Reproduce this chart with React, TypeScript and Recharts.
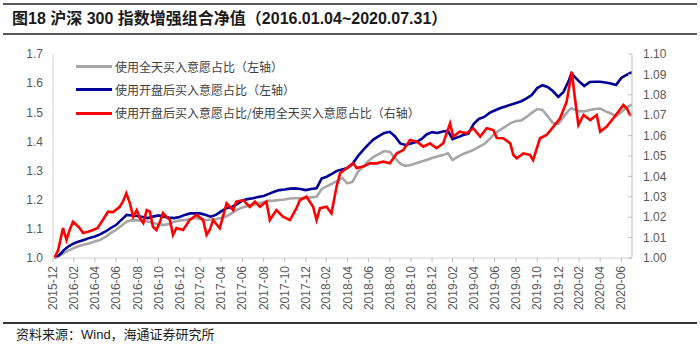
import React from 'react';
import { LineChart, Line, XAxis, YAxis } from 'recharts';

const dates: string[] = [
  '2016-01-04','2016-01-15','2016-01-25','2016-01-31','2016-02-15','2016-02-29','2016-03-15','2016-03-31','2016-04-15','2016-04-30',
  '2016-05-15','2016-05-31','2016-06-15','2016-06-30','2016-07-15','2016-07-31','2016-08-15','2016-08-31','2016-09-15','2016-09-30',
  '2016-10-15','2016-10-31','2016-11-15','2016-11-30','2016-12-15','2016-12-31','2017-01-15','2017-01-31','2017-02-15','2017-02-28',
  '2017-03-15','2017-03-31','2017-04-15','2017-04-30','2017-05-15','2017-05-31','2017-06-15','2017-06-30','2017-07-15','2017-07-31',
  '2017-08-15','2017-08-31','2017-09-15','2017-09-30','2017-10-15','2017-10-31','2017-11-15','2017-11-30','2017-12-15','2017-12-31',
  '2018-01-15','2018-01-31','2018-02-15','2018-02-28','2018-03-15','2018-03-31','2018-04-15','2018-04-30','2018-05-15','2018-05-31',
  '2018-06-15','2018-06-30','2018-07-15','2018-07-31','2018-08-15','2018-08-31','2018-09-15','2018-09-30','2018-10-15','2018-10-31',
  '2018-11-15','2018-11-30','2018-12-15','2018-12-31','2019-01-15','2019-01-31','2019-02-15','2019-02-28','2019-03-15','2019-03-31',
  '2019-04-15','2019-04-30','2019-05-15','2019-05-31','2019-06-15','2019-06-30','2019-07-15','2019-07-31','2019-08-15','2019-08-31',
  '2019-09-15','2019-09-30','2019-10-15','2019-10-31','2019-11-15','2019-11-30','2019-12-15','2019-12-31','2020-01-15','2020-01-31',
  '2020-02-07','2020-02-15','2020-02-29','2020-03-15','2020-03-31','2020-04-15','2020-04-30','2020-05-15','2020-05-31','2020-06-15',
  '2020-06-30','2020-07-15','2020-07-31',
];

// 使用全天买入意愿占比（左轴）
const fullDay: number[] = [
  1.000,1.007,1.012,1.017,1.026,1.034,1.041,1.046,1.051,1.057,
  1.062,1.072,1.086,1.096,1.110,1.125,1.129,1.130,1.127,1.125,
  1.120,1.117,1.113,1.117,1.124,1.129,1.130,1.134,1.137,1.134,
  1.130,1.132,1.134,1.137,1.142,1.154,1.165,1.173,1.178,1.182,
  1.187,1.192,1.196,1.197,1.199,1.201,1.204,1.205,1.206,1.206,
  1.208,1.210,1.237,1.245,1.254,1.264,1.275,1.256,1.261,1.297,
  1.314,1.333,1.347,1.357,1.367,1.364,1.343,1.324,1.316,1.319,
  1.325,1.331,1.336,1.343,1.348,1.353,1.359,1.336,1.347,1.357,
  1.364,1.371,1.381,1.391,1.408,1.426,1.439,1.451,1.463,1.470,
  1.472,1.484,1.498,1.511,1.508,1.487,1.463,1.460,1.484,1.508,
  1.513,1.510,1.504,1.503,1.508,1.511,1.513,1.504,1.496,1.486,
  1.501,1.516,1.527,
];

// 使用开盘后买入意愿占比（左轴）
const afterOpen: number[] = [
  1.000,1.007,1.018,1.027,1.041,1.050,1.057,1.063,1.069,1.074,
  1.081,1.091,1.103,1.113,1.130,1.148,1.146,1.144,1.141,1.137,
  1.142,1.146,1.142,1.139,1.137,1.141,1.148,1.153,1.153,1.153,
  1.148,1.142,1.148,1.160,1.171,1.175,1.185,1.197,1.202,1.205,
  1.209,1.213,1.220,1.227,1.233,1.235,1.238,1.239,1.237,1.233,
  1.237,1.239,1.273,1.278,1.288,1.299,1.304,1.309,1.323,1.350,
  1.371,1.390,1.407,1.419,1.429,1.433,1.417,1.393,1.388,1.393,
  1.398,1.408,1.424,1.432,1.429,1.434,1.436,1.408,1.414,1.422,
  1.427,1.460,1.477,1.484,1.498,1.506,1.514,1.520,1.526,1.532,
  1.538,1.548,1.559,1.583,1.593,1.587,1.573,1.553,1.570,1.611,
  1.634,1.623,1.606,1.590,1.604,1.605,1.605,1.602,1.599,1.594,
  1.618,1.628,1.638,
];

// 使用开盘后买入意愿占比/使用全天买入意愿占比（右轴）— denser sampling
const ratioDates: string[] = [
  '2016-01-04','2016-01-15','2016-01-29','2016-02-08','2016-02-17','2016-02-27','2016-03-08','2016-03-17','2016-03-27','2016-04-10',
  '2016-04-25','2016-05-08','2016-05-23','2016-06-07','2016-06-22','2016-07-11','2016-07-20','2016-07-30','2016-08-09','2016-08-19',
  '2016-08-29','2016-09-07','2016-09-17','2016-09-27','2016-10-06','2016-10-15','2016-10-25','2016-11-04','2016-11-13','2016-11-23',
  '2016-12-03','2016-12-12','2016-12-22','2017-01-10','2017-01-29','2017-02-18','2017-03-09','2017-03-19','2017-03-28','2017-04-07',
  '2017-04-26','2017-05-16','2017-06-04','2017-06-13','2017-07-03','2017-07-22','2017-08-06','2017-08-20','2017-09-08','2017-09-18',
  '2017-10-07','2017-10-26','2017-11-15','2017-12-04','2017-12-14','2018-01-02','2018-01-21','2018-01-31','2018-02-10','2018-03-01',
  '2018-03-15','2018-03-30','2018-04-09','2018-04-28','2018-05-17','2018-05-27','2018-06-15','2018-07-04','2018-07-23','2018-08-12',
  '2018-08-31','2018-09-20','2018-10-09','2018-10-28','2018-11-17','2018-12-06','2018-12-25','2019-01-13','2019-02-01','2019-02-21',
  '2019-03-02','2019-03-21','2019-04-10','2019-04-29','2019-05-19','2019-06-07','2019-06-26','2019-07-06','2019-07-25','2019-08-14',
  '2019-08-23','2019-09-02','2019-09-21','2019-10-10','2019-10-19','2019-11-08','2019-11-27','2019-12-17','2020-01-05','2020-01-24',
  '2020-02-08','2020-02-17','2020-02-27','2020-03-13','2020-04-01','2020-04-20','2020-04-30','2020-05-19','2020-06-07','2020-06-22',
  '2020-07-06','2020-07-16','2020-07-25','2020-07-31',
];
const ratio: number[] = [
  1.0000,1.0039,1.0147,1.0088,1.0137,1.0178,1.0162,1.0147,1.0123,1.0129,
  1.0137,1.0147,1.0186,1.0227,1.0225,1.0251,1.0276,1.0317,1.0270,1.0202,
  1.0235,1.0196,1.0172,1.0235,1.0227,1.0153,1.0137,1.0176,1.0221,1.0202,
  1.0186,1.0113,1.0147,1.0137,1.0186,1.0211,1.0186,1.0113,1.0137,1.0186,
  1.0146,1.0268,1.0235,1.0276,1.0284,1.0251,1.0276,1.0251,1.0276,1.0186,
  1.0235,1.0202,1.0186,1.0244,1.0284,1.0300,1.0251,1.0186,1.0244,1.0251,
  1.0219,1.0350,1.0415,1.0440,1.0464,1.0441,1.0448,1.0464,1.0464,1.0472,
  1.0464,1.0513,1.0529,1.0578,1.0570,1.0546,1.0562,1.0538,1.0562,1.0660,
  1.0595,1.0619,1.0611,1.0636,1.0595,1.0636,1.0627,1.0588,1.0587,1.0562,
  1.0505,1.0489,1.0513,1.0505,1.0480,1.0587,1.0603,1.0644,1.0685,1.0766,
  1.0912,1.0783,1.0652,1.0701,1.0676,1.0701,1.0619,1.0644,1.0685,1.0718,
  1.0750,1.0734,1.0701,1.0701,
];

const xTickLabels: string[] = [
  '2015-12','2016-02','2016-04','2016-06','2016-08','2016-10','2016-12',
  '2017-02','2017-04','2017-06','2017-08','2017-10','2017-12',
  '2018-02','2018-04','2018-06','2018-08','2018-10','2018-12',
  '2019-02','2019-04','2019-06','2019-08','2019-10','2019-12',
  '2020-02','2020-04','2020-06',
];
const leftTicks: number[] = [1.0, 1.1, 1.2, 1.3, 1.4, 1.5, 1.6, 1.7];
const rightTicks: number[] = [1.0, 1.01, 1.02, 1.03, 1.04, 1.05, 1.06, 1.07, 1.08, 1.09, 1.1];

const seriesNames = [
  '使用全天买入意愿占比（左轴）',
  '使用开盘后买入意愿占比（左轴）',
  '使用开盘后买入意愿占比/使用全天买入意愿占比（右轴）',
];
const colors = ['#A6A6A6', '#000099', '#FF0000'];

const toTs = (s: string) => {
  const [y, m, d] = s.split('-').map(Number);
  return Date.UTC(y, m - 1, d);
};
const monthEnd = (label: string) => {
  const [y, m] = label.split('-').map(Number);
  return Date.UTC(y, m, 0);
};

const data = dates.map((d, i) => ({
  ts: toTs(d),
  full: fullDay[i],
  open: afterOpen[i],
}));
const ratioData = ratioDates.map((d, i) => ({ ts: toTs(d), ratio: ratio[i] }));
const xTicks = xTickLabels.map(monthEnd);
const xDomain = [monthEnd('2015-12'), monthEnd('2020-07')];

const tickFont = '"Liberation Sans", Arial, sans-serif';
const labelColor = '#595959';

const fmtMonth = (v: number) => {
  const dt = new Date(v);
  const m = dt.getUTCMonth() + 1;
  return `${dt.getUTCFullYear()}-${m < 10 ? '0' + m : m}`;
};

const XTick = (props: any) => {
  const { x, y, payload } = props;
  return (
    <text
      x={x}
      y={y}
      transform={`rotate(-90 ${x} ${y})`}
      textAnchor="end"
      dy="0.35em"
      fill={labelColor}
      fontSize={12}
      fontFamily={tickFont}
    >
      {fmtMonth(payload.value)}
    </text>
  );
};

const RightTick = (props: any) => {
  const { x, y, payload } = props;
  const axisX = x - 11;
  return (
    <g>
      <line x1={axisX} x2={axisX - 4} y1={y} y2={y} stroke="#bfbfbf" strokeWidth={1} />
      <text x={x} y={y} dy="0.35em" textAnchor="start" fill={labelColor} fontSize={12} fontFamily={tickFont}>
        {Number(payload.value).toFixed(2)}
      </text>
    </g>
  );
};

export default function App() {
  return (
    <div
      style={{
        position: 'absolute',
        left: 0,
        top: 0,
        width: 700,
        height: 352,
        background: '#ffffff',
        overflow: 'hidden',
        fontFamily: '"Liberation Sans", "Noto Sans CJK SC", sans-serif',
      }}
    >
      <div style={{ position: 'absolute', left: 3, top: 3, width: 694, height: 2, background: '#595959' }} />
      <div
        style={{
          position: 'absolute',
          left: 12,
          top: 9,
          lineHeight: '20px',
          fontSize: 16,
          fontWeight: 'bold',
          color: '#1a1a1a',
          whiteSpace: 'nowrap',
          fontFamily: '"Liberation Sans", "Noto Sans CJK SC", sans-serif',
        }}
      >
        图18 沪深 300 指数增强组合净值（2016.01.04~2020.07.31）
      </div>
      <div style={{ position: 'absolute', left: 3, top: 33, width: 694, height: 1.5, background: '#595959' }} />

      <div style={{ position: 'absolute', left: 0, top: 0 }}>
        <LineChart width={700} height={352} data={data} margin={{ top: 54, right: 0, bottom: 30, left: 0 }}>
          <XAxis
            dataKey="ts"
            type="number"
            domain={xDomain}
            ticks={xTicks}
            interval={0}
            height={64}
            tick={<XTick />}
            tickSize={4}
            tickMargin={4}
            axisLine={{ stroke: '#d0d0d0' }}
            tickLine={{ stroke: '#bfbfbf' }}
            allowDataOverflow
          />
          <YAxis
            yAxisId="left"
            orientation="left"
            width={53}
            domain={[1.0, 1.7]}
            ticks={leftTicks}
            interval={0}
            tickFormatter={(v: number) => v.toFixed(1)}
            tick={{ fill: labelColor, fontSize: 12, fontFamily: tickFont }}
            tickLine={false}
            tickSize={6}
            tickMargin={4}
            axisLine={{ stroke: '#d0d0d0' }}
          />
          <YAxis
            yAxisId="right"
            orientation="right"
            width={68}
            domain={[1.0, 1.1]}
            ticks={rightTicks}
            interval={0}
            tick={<RightTick />}
            tickLine={false}
            tickSize={6}
            tickMargin={5}
            axisLine={{ stroke: '#bfbfbf' }}
          />
          <Line yAxisId="left" type="linear" dataKey="full" stroke={colors[0]} strokeWidth={2.6} dot={false} isAnimationActive={false} />
          <Line yAxisId="left" type="linear" dataKey="open" stroke={colors[1]} strokeWidth={2.6} dot={false} isAnimationActive={false} />
          <Line yAxisId="right" type="linear" data={ratioData} dataKey="ratio" stroke={colors[2]} strokeWidth={2.6} dot={false} isAnimationActive={false} />
        </LineChart>
      </div>

      <div style={{ position: 'absolute', left: 76, top: 55 }}>
        {seriesNames.map((name, i) => (
          <div key={name} style={{ display: 'flex', alignItems: 'center', height: 23.3 }}>
            <div style={{ width: 36, height: 3, background: colors[i], marginRight: 3 }} />
            <span
              style={{
                fontSize: 12,
                color: '#404040',
                whiteSpace: 'nowrap',
                fontFamily: '"Noto Sans CJK SC", sans-serif',
                lineHeight: '14px',
              }}
            >
              {name}
            </span>
          </div>
        ))}
      </div>

      <div style={{ position: 'absolute', left: 3, top: 322, width: 694, height: 1.5, background: '#333333' }} />
      <div
        style={{
          position: 'absolute',
          left: 16,
          top: 326,
          fontSize: 13,
          lineHeight: '18px',
          color: '#1a1a1a',
          whiteSpace: 'nowrap',
          fontFamily: '"Liberation Sans", "Noto Sans CJK SC", sans-serif',
        }}
      >
        资料来源：Wind，海通证券研究所
      </div>
    </div>
  );
}
